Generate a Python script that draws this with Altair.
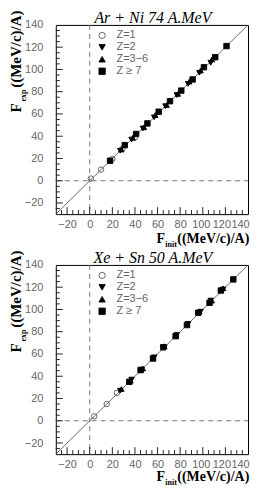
import altair as alt
import pandas as pd

# ---------------- data ----------------
groups = ["Z=1", "Z=2", "Z=3\u22126", "Z  \u2265 7"]
shapes = ["circle", "triangle-down", "triangle-up", "square"]
fills = ["transparent", "black", "black", "black"]
strokes = ["#555555", "black", "black", "black"]

# panel 1 : Ar + Ni 74 A.MeV
p1_z1_x = [1, 10, 20, 29, 40]
p1_z1_y = [2, 10, 19.5, 29, 39]
p1_z2_x = [27, 37, 47, 57, 67, 77, 87, 97, 107]
p1_z2_y = [27, 37, 47, 57, 67, 77, 87, 97, 106]
p1_z36_x = [28, 38, 48, 58, 68, 78, 88, 98, 108]
p1_z36_y = [28, 38.5, 48, 59, 68, 78, 89, 99, 109]
p1_z7_x = [18, 31, 41, 51, 61, 71, 81, 91, 101, 111, 121]
p1_z7_y = [18, 32, 42, 51.5, 62, 71.5, 81, 91, 102, 111, 121]

# panel 2 : Xe + Sn 50 A.MeV
p2_z1_x = [4, 15, 24]
p2_z1_y = [4, 15, 25]
p2_z2_x = [27, 37, 46, 57, 66, 77, 87, 98, 107, 118]
p2_z2_y = [27, 37, 46, 57, 66, 77, 87, 98, 108, 118]
p2_z36_x = [28, 36, 47, 56, 66, 76, 86, 97, 108, 118]
p2_z36_y = [28.5, 36, 47, 56, 67, 77, 87, 98, 108, 119]
p2_z7_x = [35, 45, 56, 65, 76, 86, 96, 106, 116, 127]
p2_z7_y = [35, 45.5, 56, 66, 76, 86, 97, 106, 117, 127]

titles = ["Ar + Ni 74 A.MeV", "Xe + Sn 50 A.MeV"]

axis_min, axis_max = -30, 140
label_values = [-20, 0, 20, 40, 60, 80, 100, 120, 140]
major_ticks = [-20, 0, 20, 40, 60, 80, 100, 120]
minor_ticks = [v for v in range(-25, 140, 5) if v not in major_ticks]
diag = [axis_min, axis_max]

W, H = 193, 190


def make_df(xs_list, ys_list):
    rows = []
    for g, xs, ys in zip(groups, xs_list, ys_list):
        for x, y in zip(xs, ys):
            rows.append({"x": x, "y": y, "Z": g})
    return pd.DataFrame(rows)


def text_layer(txt, x, y, size, angle=0, italic=False, bold=True, align="left"):
    return alt.Chart(alt.Data(values=[{"a": 1}])).mark_text(
        text=txt,
        font="Liberation Serif",
        fontSize=size,
        fontWeight="bold" if bold else "normal",
        fontStyle="italic" if italic else "normal",
        angle=angle,
        align=align,
        baseline="alphabetic",
        color="black",
    ).encode(x=alt.value(x), y=alt.value(y))


# crowded right-hand x labels are nudged left, as in the original figure
x_label_offset = {
    "condition": [
        {"test": "datum.value == 140", "value": -8},
        {"test": "datum.value == 120", "value": -4},
        {"test": "datum.value == 100", "value": -2},
    ],
    "value": 0,
}


def panel(df, title, xt_base):
    xs = alt.Scale(domain=[axis_min, axis_max], nice=False, zero=False)
    ys = alt.Scale(domain=[axis_min, axis_max], nice=False, zero=False)
    xax = alt.Axis(values=label_values, title=None, labelPadding=4,
                   labelOverlap=False, labelFlush=False, labelBound=False,
                   labelOffset=x_label_offset)
    yax = alt.Axis(values=label_values, title=None, labelPadding=13,
                   labelOverlap=False, labelFlush=False, labelBound=False)

    def X(f):
        return alt.X(f, scale=xs, axis=xax, title=None)

    def Y(f):
        return alt.Y(f, scale=ys, axis=yax, title=None)

    diag_df = pd.DataFrame({"x": diag, "y": diag})
    line = alt.Chart(diag_df).mark_line(color="#444444", strokeWidth=0.8, clip=True).encode(
        x=X("x:Q"), y=Y("y:Q"))
    zero_df = pd.DataFrame({"v": [0]})
    vdash = alt.Chart(zero_df).mark_rule(color="#777777", strokeDash=[5, 4], strokeWidth=1).encode(
        x=X("v:Q"), y=alt.value(0), y2=alt.value(H))
    hdash = alt.Chart(zero_df).mark_rule(color="#777777", strokeDash=[5, 4], strokeWidth=1).encode(
        y=Y("v:Q"), x=alt.value(0), x2=alt.value(W))

    maj = pd.DataFrame({"t": major_ticks})
    mnr = pd.DataFrame({"t": minor_ticks})
    xt_maj = alt.Chart(maj).mark_rule(color="#222222", strokeWidth=1).encode(
        x=X("t:Q"), y=alt.value(H), y2=alt.value(H - 7))
    xt_min = alt.Chart(mnr).mark_rule(color="#222222", strokeWidth=1).encode(
        x=X("t:Q"), y=alt.value(H), y2=alt.value(H - 4))
    yt_maj = alt.Chart(maj).mark_rule(color="#222222", strokeWidth=1).encode(
        y=Y("t:Q"), x=alt.value(0), x2=alt.value(7))
    yt_min = alt.Chart(mnr).mark_rule(color="#222222", strokeWidth=1).encode(
        y=Y("t:Q"), x=alt.value(0), x2=alt.value(4))

    pts = alt.Chart(df).mark_point(opacity=1, size=30, strokeWidth=0.9).encode(
        x=X("x:Q"),
        y=Y("y:Q"),
        shape=alt.Shape("Z:N", scale=alt.Scale(domain=groups, range=shapes), title=None,
                        legend=alt.Legend(orient="none", legendX=41, legendY=5, padding=0,
                                          rowPadding=0, symbolSize=40, labelFontSize=11,
                                          labelColor="#666666", labelFont="Liberation Sans",
                                          labelOffset=9, symbolStrokeWidth=0.9)),
        fill=alt.Fill("Z:N", scale=alt.Scale(domain=groups, range=fills), title=None),
        stroke=alt.Stroke("Z:N", scale=alt.Scale(domain=groups, range=strokes), title=None),
    )

    texts = [
        text_layer(title, W / 2 + 1, -2, 16, italic=True, bold=False, align="center"),
        # x title
        text_layer("F", 101, H + xt_base, 14),
        text_layer("init", 110, H + xt_base + 4, 8),
        text_layer("((MeV/c)/A)", 122, H + xt_base, 14),
        # y title
        text_layer("F", -35, 88, 15, angle=270),
        text_layer("exp", -30, 77, 8, angle=270),
        text_layer("((MeV/c)/A)", -35, 63, 15, angle=270),
    ]
    return alt.layer(vdash, hdash, line, xt_maj, xt_min, yt_maj, yt_min, pts, *texts).properties(
        width=W, height=H)


p1 = panel(make_df([p1_z1_x, p1_z2_x, p1_z36_x, p1_z7_x], [p1_z1_y, p1_z2_y, p1_z36_y, p1_z7_y]), titles[0], 29)
p2 = panel(make_df([p2_z1_x, p2_z2_x, p2_z36_x, p2_z7_x], [p2_z1_y, p2_z2_y, p2_z36_y, p2_z7_y]), titles[1], 27)

chart = alt.vconcat(p1, p2, spacing=51, bounds="flush").resolve_legend(
    shape="independent", fill="independent", stroke="independent"
).configure(
    padding={"left": 0, "top": 0, "right": 0, "bottom": 0}
).configure_view(stroke="black", strokeWidth=1).configure_axis(
    domain=False, ticks=False, grid=False, labelColor="#666666",
    labelFont="Liberation Sans", labelFontSize=11,
    labelOverlap=False, labelBound=False,
)

chart.save("out.html", embed_options={"renderer": "svg", "actions": False})
